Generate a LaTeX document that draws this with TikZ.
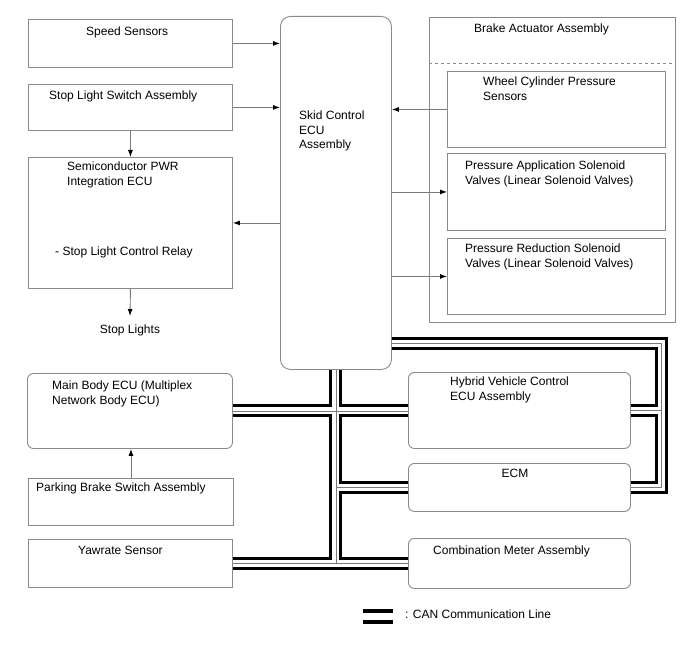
\documentclass[tikz,border=0pt]{standalone}
\usepackage{fontspec}
\setmainfont{Liberation Sans}
\usetikzlibrary{arrows.meta,positioning,calc}
\definecolor{Frame}{HTML}{8A8A8A}
\definecolor{Wire}{HTML}{7A7A7A}

\begin{document}
\begin{tikzpicture}[x=1pt,y=-1pt,
  box/.style={draw=Frame,line width=0.9pt,inner sep=0pt,anchor=north west},
  rbox/.style={box,rounded corners=6pt},
  txt/.style={anchor=north west,inner sep=0pt,align=left,font=\fontsize{12}{14.5}\selectfont},
  sig/.style={draw=Wire,line width=0.9pt,-{Latex[length=7pt,width=5pt,color=black]}}]
\useasboundingbox (0,0) rectangle (688,658);
% left column
\node[box,minimum width=204pt,minimum height=48pt] (speed) at (28,19) {};
\node[box,minimum width=204pt,minimum height=46pt] (slsw) at (28,84) {};
\node[box,minimum width=204pt,minimum height=131pt] (semi) at (28,157) {};
\node[rbox,minimum width=205pt,minimum height=75pt] (mbecu) at (27,373) {};
\node[box,minimum width=205pt,minimum height=47pt] (pbsw) at (28,478) {};
\node[box,minimum width=204pt,minimum height=48pt] (yaw) at (28,539) {};
% skid control ecu
\node[box,rounded corners=10pt,minimum width=111pt,minimum height=353pt] (skid) at (280,16) {};
% brake actuator
\node[box,minimum width=246pt,minimum height=305pt] (brake) at (429,17) {};
\draw[Frame,line width=0.9pt,dashed] ($(brake.north west)+(0,46)$) -- ($(brake.north east)+(0,46)$);
\node[box,minimum width=218pt,minimum height=76pt] (wcps) at (447,71) {};
\node[box,minimum width=218pt,minimum height=77pt] (pasv) at (447,153) {};
\node[box,minimum width=218pt,minimum height=76pt] (prsv) at (447,238) {};
% can nodes
\node[rbox,minimum width=222pt,minimum height=76pt] (hvecu) at (408,372) {};
\node[rbox,minimum width=222pt,minimum height=48pt] (ecm) at (408,463) {};
\node[rbox,minimum width=222pt,minimum height=50pt] (meter) at (408,538) {};

% texts
\node[txt] (speedtxt) at (86,27) {Speed Sensors};
\node[txt] (slswtxt) at (49,91) {Stop Light Switch Assembly};
\node[txt] (semitxt) at (67,162) {Semiconductor PWR\\Integration ECU};
\node[txt] (relaytxt) at (55,247) {- Stop Light Control Relay};
\node[txt,anchor=north,inner ysep=9pt] (stoplights) at (130,316) {Stop Lights};
\node[txt] (skidtxt) at (299,111) {Skid Control\\ECU\\Assembly};
\node[txt] (braketxt) at (474,24) {Brake Actuator Assembly};
\node[txt] (wcpstxt) at (483,77) {Wheel Cylinder Pressure\\Sensors};
\node[txt] (pasvtxt) at (465,161) {Pressure Application Solenoid\\Valves (Linear Solenoid Valves)};
\node[txt] (prsvtxt) at (465,244) {Pressure Reduction Solenoid\\Valves (Linear Solenoid Valves)};
\node[txt] (mbecutxt) at (52,381) {Main Body ECU (Multiplex\\Network Body ECU)};
\node[txt] (pbswtxt) at (36,483) {Parking Brake Switch Assembly};
\node[txt] (yawtxt) at (78,546) {Yawrate Sensor};
\node[txt] (hvecutxt) at (450,377) {Hybrid Vehicle Control\\ECU Assembly};
\node[txt,anchor=north] (ecmtxt) at (515,469) {ECM};
\node[txt] (metertxt) at (433,546) {Combination Meter Assembly};
\node[txt] (legendtxt) at (405,610) {: CAN Communication Line};

% signal lines
\draw[sig] (speed.east) -- (speed.east -| skid.west);
\draw[sig] (slsw.east) -- (slsw.east -| skid.west);
\draw[sig] (skid.west |- semi.east) -- (semi.east);
\draw[sig] (slsw.south) -- (semi.north);
\draw[sig] (semi.south) -- (stoplights.north);
\draw[sig] (wcps.west) -- (wcps.west -| skid.east);
\draw[sig] (skid.east |- pasv.west) -- (pasv.west);
\draw[sig] (skid.east |- prsv.west) -- (prsv.west);
\draw[sig] (pbsw.north) -- (pbsw.north |- mbecu.south);

% can bus
\coordinate (canne) at (661,343);
\coordinate (canse) at (canne |- ecm.east);
\foreach \w/\c in {13pt/black,7pt/white,0.7pt/Wire}{
  \draw[line width=\w,draw=\c]
    (skid.south) -- (skid.south |- yaw.east)
    (mbecu.east) -- (mbecu.east -| hvecu.west)
    (skid.south |- ecm.west) -- (ecm.west)
    (yaw.east) -- (meter.west)
    (skid.east |- canne) -- (canne) -- (canse) -- (ecm.east)
    (canne |- hvecu.east) -- (hvecu.east);
}
% legend
\foreach \y in {611,622}
  \draw[line width=4pt] (363,\y) -- (393,\y);
\end{tikzpicture}
\end{document}
